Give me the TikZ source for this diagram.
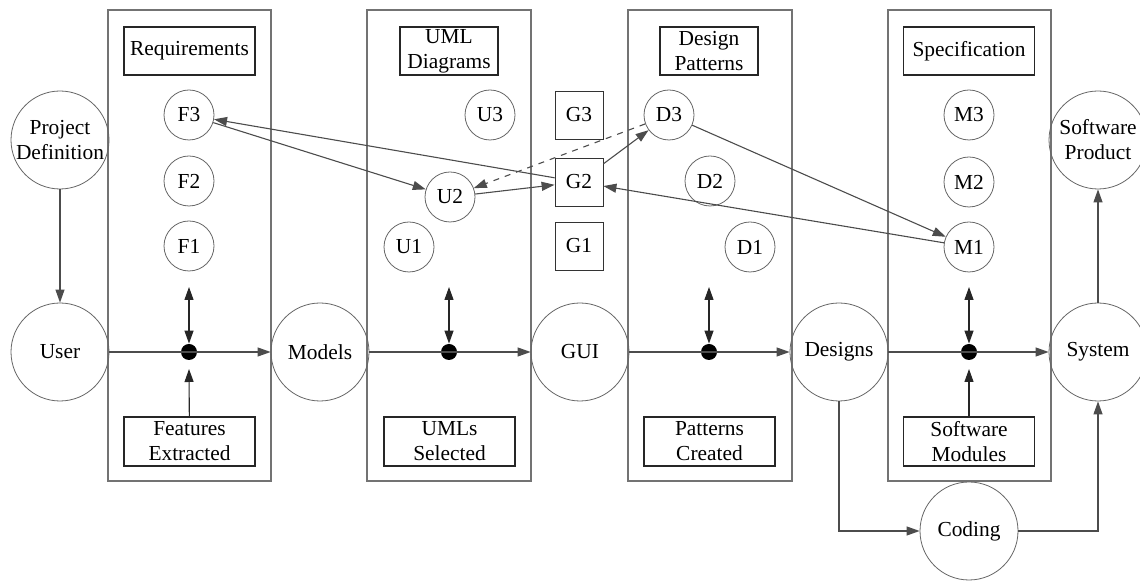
\documentclass[tikz,border=0pt]{standalone}
\usepackage{fontspec}
\setmainfont{Liberation Serif}
\usetikzlibrary{arrows.meta}

\newcommand{\stagetext}{\fontsize{10.7}{12.5}\selectfont}

\begin{document}
\begin{tikzpicture}[x=0.5pt,y=-0.5pt,font=\stagetext]

\tikzstyle{big}=[draw=black!60,circle,minimum size=49pt,inner sep=0pt,align=center]
\tikzstyle{small}=[draw=black!60,circle,minimum size=25pt,inner sep=0pt]
\tikzstyle{gbox}=[draw=black!80,minimum size=24pt,inner sep=0pt]
\tikzstyle{titlebox}=[draw=black!85,line width=0.7pt,minimum height=24pt,align=center,inner sep=1pt]
\tikzstyle{footbox}=[draw=black!85,line width=0.7pt,minimum width=65.5pt,minimum height=24.5pt,align=center,inner sep=1pt]
\tikzstyle{dot}=[fill=black,circle,minimum size=8pt,inner sep=0pt]
\tikzstyle{link}=[draw=black!70,line width=0.55pt,-{Triangle[length=6.5pt,width=4.5pt]}]
\tikzstyle{updown}=[draw=black!85,line width=0.6pt,{Triangle[length=6.5pt,width=4.5pt]}-{Triangle[length=6.5pt,width=4.5pt]}]
\tikzstyle{panel}=[draw=black!55,line width=0.7pt]

\useasboundingbox (0,0) rectangle (1140,581);

% stage panels
\draw[panel] (108,10) rectangle (271,481);
\draw[panel] (367,10) rectangle (531,481);
\draw[panel] (628,10) rectangle (792,481);
\draw[panel] (888,10) rectangle (1051,481);

% main flow
\node[big] (pd) at (60,140) {Project\\Definition};
\node[big] (user) at (60,352) {User};
\node[big] (models) at (320,352) {Models};
\node[big] (gui) at (580,352) {GUI};
\node[big] (designs) at (839,352) {Designs};
\node[big] (system) at (1098,352) {System};
\node[big] (product) at (1098,140) {Software\\Product};
\node[big] (coding) at (969,531) {Coding};

% panel titles and outputs
\node[titlebox,minimum width=65.5pt] (req) at (189.5,51) {Requirements};
\node[titlebox,minimum width=49pt] (uml) at (449,51) {UML\\Diagrams};
\node[titlebox,minimum width=49pt] (dpat) at (709,51) {Design\\Patterns};
\node[titlebox,minimum width=65.5pt] (spec) at (969,51) {Specification};
\node[footbox] (feat) at (189.5,441.5) {Features\\Extracted};
\node[footbox] (umls) at (449.5,441.5) {UMLs\\Selected};
\node[footbox] (pat) at (709.5,441.5) {Patterns\\Created};
\node[footbox] (mods) at (969,441.5) {Software\\Modules};

% items
\node[small] (f3) at (189,115) {F3};
\node[small] (f2) at (189,181) {F2};
\node[small] (f1) at (189,246) {F1};
\node[small] (u3) at (490,115) {U3};
\node[small] (u2) at (450,197) {U2};
\node[small] (u1) at (409,247) {U1};
\node[gbox] (g3) at (579,115) {G3};
\node[gbox] (g2) at (579,182) {G2};
\node[gbox] (g1) at (579,246) {G1};
\node[small] (d3) at (669,115) {D3};
\node[small] (d2) at (710,181) {D2};
\node[small] (d1) at (750,247) {D1};
\node[small] (m3) at (969,115) {M3};
\node[small] (m2) at (969,182) {M2};
\node[small] (m1) at (969,247) {M1};

% junctions
\node[dot] (j1) at (189,352) {};
\node[dot] (j2) at (449,352) {};
\node[dot] (j3) at (709,352) {};
\node[dot] (j4) at (969,352) {};
\coordinate (t1) at (189,287);
\coordinate (t2) at (449,287);
\coordinate (t3) at (709,287);
\coordinate (t4) at (969,287);
\coordinate (b1) at (189,369);
\coordinate (b4) at (969,369);

\draw[link] (pd) -- (user);
\draw[link] (user) -- (models);
\draw[link] (models) -- (gui);
\draw[link] (gui) -- (designs);
\draw[link] (designs) -- (system);
\draw[link] (system) -- (product);
\draw[link] (designs) |- (coding);
\draw[link] (coding) -| (system);

\draw[updown] (t1) -- (j1);
\draw[updown] (t2) -- (j2);
\draw[updown] (t3) -- (j3);
\draw[updown] (t4) -- (j4);
\draw[link,draw=black!85] (feat) -- (b1);
\draw[link,draw=black!85] (mods) -- (b4);

% traces between items
\draw[link] (f3) -- (u2);
\draw[link] (g2) -- (f3);
\draw[link] (u2) -- (g2);
\draw[link,dashed] (d3) -- (u2);
\draw[link] (g2) -- (d3);
\draw[link] (d3) -- (m1);
\draw[link] (m1) -- (g2);

\end{tikzpicture}
\end{document}
